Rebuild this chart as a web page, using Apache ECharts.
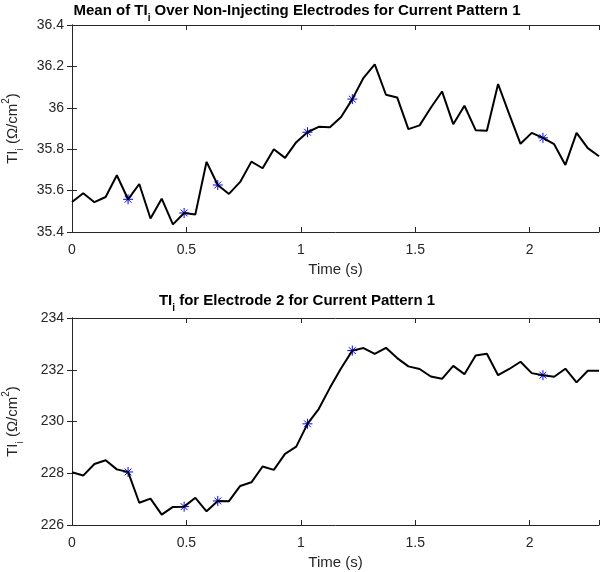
<!DOCTYPE html>
<html>
<head>
<meta charset="utf-8">
<script src="https://cdn.jsdelivr.net/npm/echarts@6/dist/echarts.min.js"></script>
<style>
  html, body { margin: 0; padding: 0; background: #fff; }
  #chart { width: 600px; height: 572px; }
</style>
</head>
<body>
<div id="chart"></div>
<script>
// sample times (s)
const times = [0, 0.049, 0.098, 0.147, 0.196, 0.245, 0.294, 0.343, 0.392, 0.441, 0.49, 0.539,
  0.588, 0.637, 0.686, 0.735, 0.784, 0.833, 0.882, 0.931, 0.98, 1.029, 1.078, 1.127,
  1.176, 1.225, 1.274, 1.323, 1.372, 1.421, 1.47, 1.519, 1.568, 1.617, 1.666, 1.715,
  1.764, 1.813, 1.862, 1.911, 1.96, 2.009, 2.058, 2.107, 2.156, 2.205, 2.254, 2.303];

// mean TI over non-injecting electrodes
const meanTI = [35.545, 35.587, 35.544, 35.569, 35.674, 35.558, 35.632, 35.465, 35.561, 35.437, 35.492, 35.485,
  35.739, 35.627, 35.584, 35.642, 35.740, 35.708, 35.800, 35.758, 35.834, 35.882, 35.908, 35.906,
  35.956, 36.042, 36.145, 36.210, 36.063, 36.050, 35.897, 35.915, 36.000, 36.079, 35.921, 36.010,
  35.892, 35.889, 36.115, 35.968, 35.826, 35.879, 35.855, 35.824, 35.724, 35.879, 35.805, 35.766];

// TI for electrode 2
const elec2TI = [228.04, 227.91, 228.36, 228.50, 228.15, 228.05, 226.86, 227.02, 226.40, 226.70, 226.71, 227.05,
  226.53, 226.93, 226.92, 227.51, 227.65, 228.26, 228.13, 228.75, 229.03, 229.91, 230.48, 231.30,
  232.06, 232.74, 232.84, 232.61, 232.85, 232.45, 232.13, 232.03, 231.74, 231.65, 232.15, 231.83,
  232.55, 232.62, 231.79, 232.03, 232.31, 231.87, 231.79, 231.73, 232.04, 231.51, 231.96, 231.96];

// samples marked with asterisks
const markIdx = [5, 10, 13, 21, 25, 42];

const xTicks = [0, 0.5, 1, 1.5, 2];
const topTitle = 'Mean of TI{sub|i} Over Non-Injecting Electrodes for Current Pattern 1';
const botTitle = 'TI{sub|i} for Electrode 2 for Current Pattern 1';
const yName = 'TI{sub|i} (Ω/cm{sup|2})';
const xName = 'Time (s)';

const FONT = 'Liberation Sans, Helvetica, Arial, sans-serif';
const AX = '#262626';
const STAR = 'path://M5,0L5,10M0,5L10,5M1.6,1.6L8.4,8.4M1.6,8.4L8.4,1.6';

const chart = echarts.init(document.getElementById('chart'), null, { renderer: 'canvas' });

const richSub = {
  sub: { fontSize: 10, lineHeight: 24, verticalAlign: 'bottom', fontFamily: FONT, color: AX },
  sup: { fontSize: 10, lineHeight: 24, verticalAlign: 'top', fontFamily: FONT, color: AX },
};

function titleOpt(text, top) {
  return {
    text, left: 292, top, textAlign: 'center',
    textStyle: {
      fontFamily: FONT, fontSize: 15, fontWeight: 'bold', color: '#000', lineHeight: 24,
      rich: {
        sub: { fontSize: 10, fontWeight: 'bold', lineHeight: 24, verticalAlign: 'bottom', fontFamily: FONT, color: '#000' },
      },
    },
  };
}

function xLabel(v) {
  return xTicks.some(t => Math.abs(t - v) < 1e-6) ? String(v) : '';
}

function xAxisMain(gridIndex) {
  return {
    type: 'value', gridIndex, min: 0, max: times[times.length - 1], interval: 0.5,
    name: xName, nameLocation: 'middle', nameGap: 30,
    nameTextStyle: { fontFamily: FONT, fontSize: 15, color: AX },
    axisLine: { show: true, lineStyle: { color: AX, width: 1 } },
    axisTick: { show: true, inside: true, length: 5, lineStyle: { color: AX } },
    axisLabel: { fontFamily: FONT, fontSize: 14, color: AX, margin: 11, formatter: xLabel },
    splitLine: { show: false },
  };
}

function xAxisTop(gridIndex) {
  return {
    type: 'value', gridIndex, position: 'top', min: 0, max: times[times.length - 1], interval: 0.5,
    axisLine: { show: true, lineStyle: { color: AX, width: 1 } },
    axisTick: { show: true, inside: true, length: 5, lineStyle: { color: AX } },
    axisLabel: { show: false }, splitLine: { show: false },
  };
}

function yAxisMain(gridIndex, min, max, interval) {
  return {
    type: 'value', gridIndex, min, max, interval,
    name: yName, nameLocation: 'middle', nameGap: 47,
    nameTextStyle: { fontFamily: FONT, fontSize: 15, color: AX, lineHeight: 24, rich: richSub },
    axisLine: { show: true, lineStyle: { color: AX, width: 1 } },
    axisTick: { show: true, inside: true, length: 5, lineStyle: { color: AX } },
    axisLabel: { fontFamily: FONT, fontSize: 14, color: AX, margin: 8 },
    splitLine: { show: false },
  };
}

function yAxisRight(gridIndex, min, max, interval) {
  return {
    type: 'value', gridIndex, position: 'right', min, max, interval,
    axisLine: { show: true, lineStyle: { color: AX, width: 1 } },
    axisTick: { show: true, inside: true, length: 5, lineStyle: { color: AX } },
    axisLabel: { show: false }, splitLine: { show: false },
  };
}

const pairs = arr => times.map((t, i) => [t, arr[i]]);
const marks = arr => markIdx.map(i => [times[i], arr[i]]);

chart.setOption({
  animation: false,
  backgroundColor: '#fff',
  title: [titleOpt(topTitle, -6), titleOpt(botTitle, 284)],
  grid: [
    { left: 72, right: 1, top: 25, height: 207, containLabel: false, outerBoundsMode: 'none' },
    { left: 72, right: 1, top: 318, height: 207, containLabel: false, outerBoundsMode: 'none' },
  ],
  xAxis: [xAxisMain(0), xAxisTop(0), xAxisMain(1), xAxisTop(1)],
  yAxis: [
    yAxisMain(0, 35.4, 36.4, 0.2), yAxisRight(0, 35.4, 36.4, 0.2),
    yAxisMain(1, 226, 234, 2), yAxisRight(1, 226, 234, 2),
  ],
  series: [
    {
      type: 'line', xAxisIndex: 0, yAxisIndex: 0, data: pairs(meanTI),
      showSymbol: false, lineStyle: { color: '#000', width: 2 },
    },
    {
      type: 'scatter', xAxisIndex: 0, yAxisIndex: 0, data: marks(meanTI),
      symbol: STAR, symbolSize: 10,
      itemStyle: { color: 'rgba(0,0,0,0)', borderColor: '#0000ff', borderWidth: 1, opacity: 1 },
    },
    {
      type: 'line', xAxisIndex: 2, yAxisIndex: 2, data: pairs(elec2TI),
      showSymbol: false, lineStyle: { color: '#000', width: 2 },
    },
    {
      type: 'scatter', xAxisIndex: 2, yAxisIndex: 2, data: marks(elec2TI),
      symbol: STAR, symbolSize: 10,
      itemStyle: { color: 'rgba(0,0,0,0)', borderColor: '#0000ff', borderWidth: 1, opacity: 1 },
    },
  ],
});

window.addEventListener('resize', () => chart.resize());
</script>
</body>
</html>
